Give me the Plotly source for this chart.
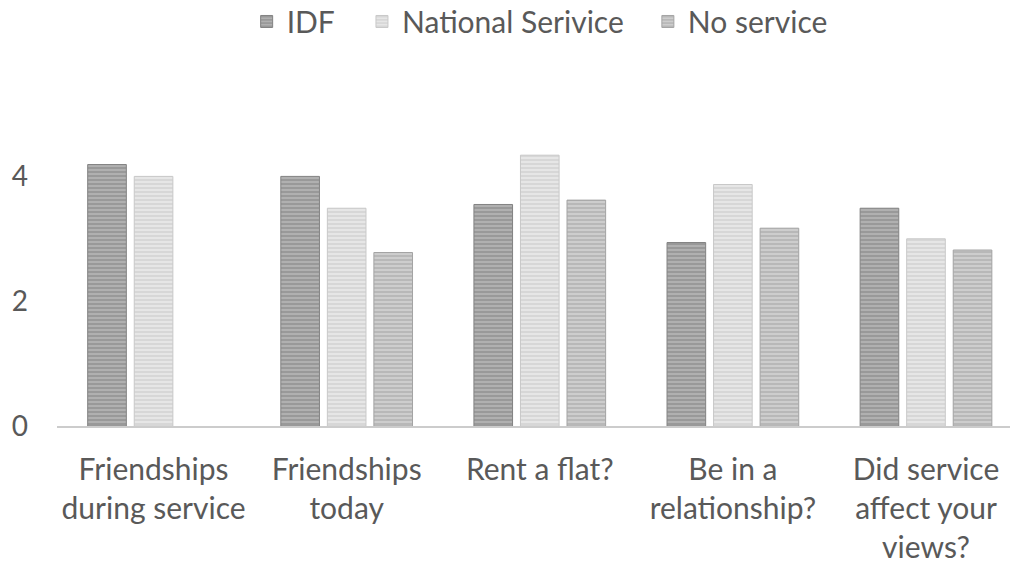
import plotly.graph_objects as go

# Survey questions (x categories)
categories = [
    "Friendships<br>during service",
    "Friendships<br>today",
    "Rent a flat?",
    "Be in a<br>relationship?",
    "Did service<br>affect your<br>views?",
]

# Mean scores per group
idf = [4.19, 4.00, 3.55, 2.94, 3.49]
national_service = [4.00, 3.49, 4.34, 3.87, 3.00]
no_service = [None, 2.78, 3.62, 3.17, 2.82]

# name, values, fill, stripe colour, legend id, legend x (paper)
series = [
    ("IDF", idf, "#b0b0b0", "#828282", "legend", 0.199),
    ("National Serivice", national_service, "#e6e6e6", "#c8c8c8", "legend2", 0.320),
    ("No service", no_service, "#cdcdcd", "#a3a3a3", "legend3", 0.620),
]

font_family = "Lato, 'Open Sans', sans-serif"
text_color = "#595959"

fig = go.Figure()
legend_layout = {}
for name, values, bg, fg, leg, lx in series:
    fig.add_trace(
        go.Bar(
            name=name,
            x=categories,
            y=values,
            legend=leg,
            marker=dict(
                color=bg,
                line=dict(color=fg, width=1),
                pattern=dict(shape="-", fgcolor=fg, bgcolor=bg, size=4, solidity=0.5),
            ),
        )
    )
    legend_layout[leg] = dict(
        x=lx,
        xanchor="left",
        yref="container",
        y=0.962,
        yanchor="middle",
        orientation="h",
        bgcolor="rgba(0,0,0,0)",
        font=dict(family=font_family, size=30, color=text_color),
        itemwidth=30,
    )

fig.update_layout(
    width=1010,
    height=565,
    paper_bgcolor="white",
    plot_bgcolor="white",
    barmode="group",
    bargap=0.277,
    bargroupgap=0.17,
    margin=dict(l=57, r=0, t=114, b=139, autoexpand=False),
    font=dict(family=font_family, size=30, color=text_color),
    showlegend=True,
    **legend_layout,
)

fig.update_xaxes(
    type="category",
    range=[-0.5, 4.435],
    showline=True,
    linecolor="#cccccc",
    linewidth=2,
    showgrid=False,
    ticks="",
    ticklabelstandoff=16,
    tickfont=dict(size=30, color=text_color),
)

fig.update_yaxes(
    range=[0, 5],
    tickvals=[0, 2, 4],
    showgrid=False,
    zeroline=False,
    showline=False,
    ticks="",
    ticklabelstandoff=28,
    tickfont=dict(size=28, color=text_color),
)

fig.write_html("out.html")
